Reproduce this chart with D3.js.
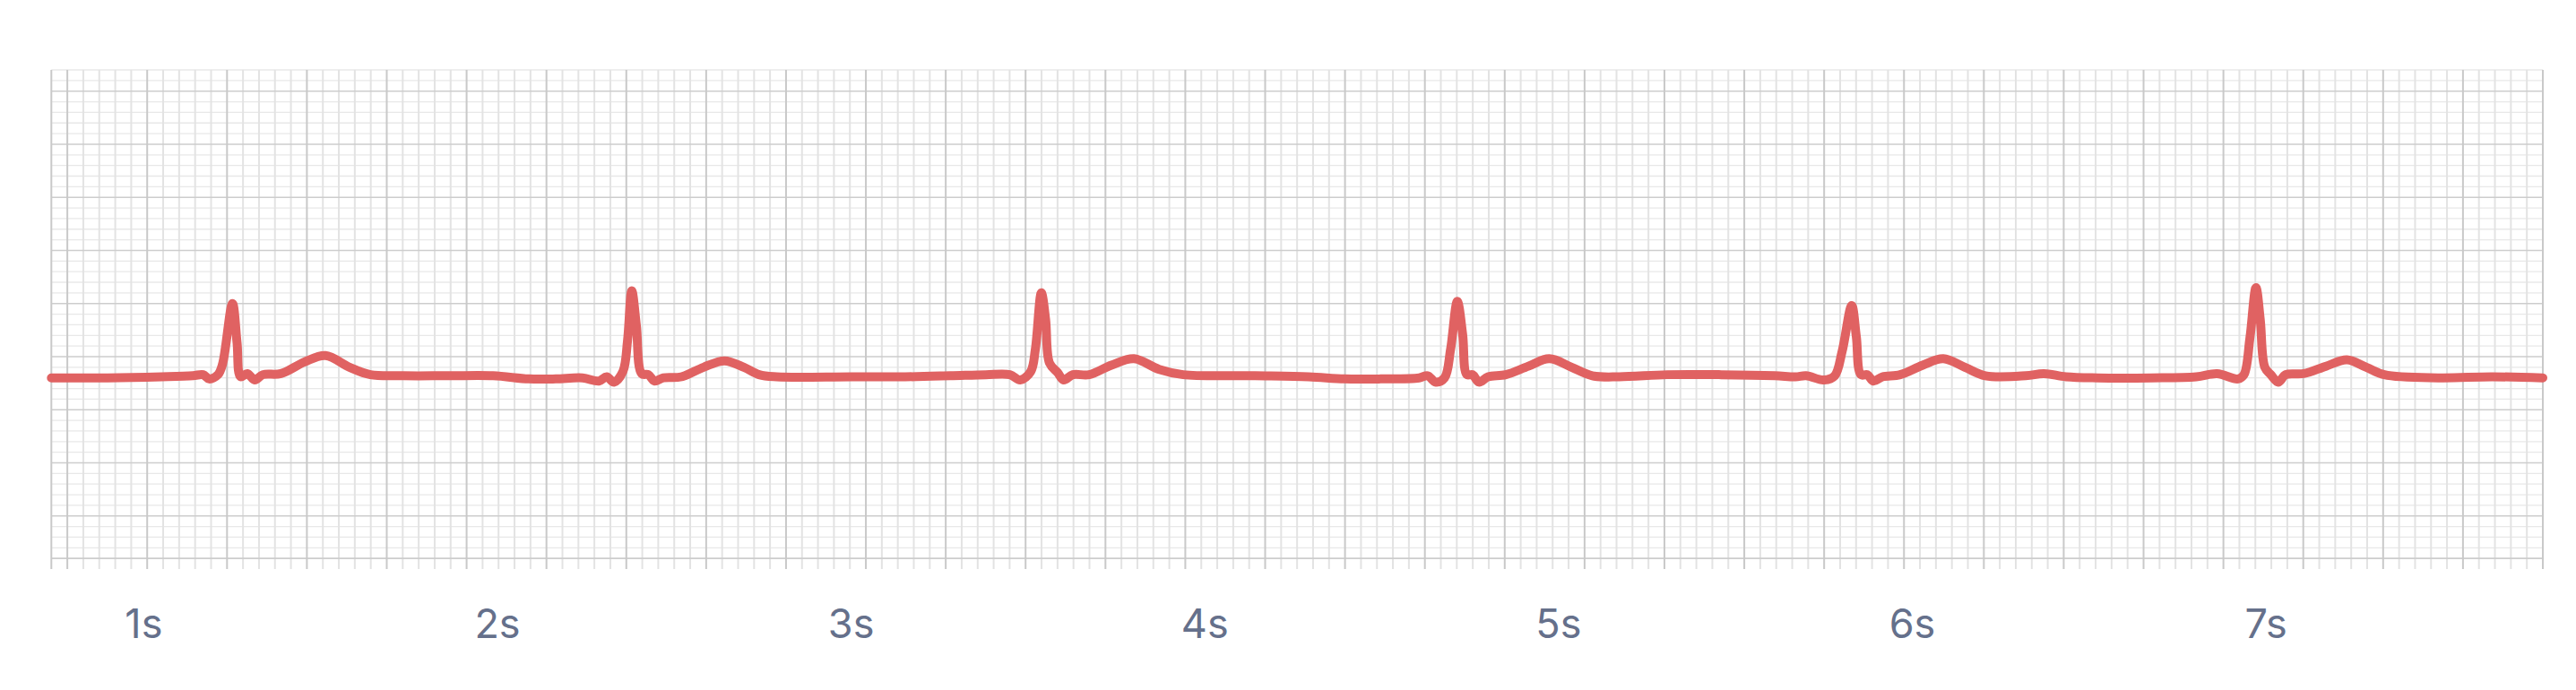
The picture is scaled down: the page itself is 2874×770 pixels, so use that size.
<!DOCTYPE html>
<html>
<head>
<meta charset="utf-8">
<script src="https://cdn.jsdelivr.net/npm/d3@7"></script>
<style>
  body { margin: 0; background: #fff; }
</style>
</head>
<body>
<script>
const w = 2874;
const h = 770;

// ecg strip: time in seconds, amplitude in mV
const times = [0.740, 0.899, 1.051, 1.140, 1.169, 1.186, 1.211, 1.224, 1.252, 1.265, 1.275, 1.294, 1.315, 1.338, 1.389, 1.456, 1.515, 1.583, 1.642, 1.735, 1.862, 1.989, 2.090, 2.166, 2.242,
  2.288, 2.310, 2.331, 2.356, 2.369, 2.381, 2.394, 2.409, 2.428, 2.445, 2.470, 2.521, 2.584, 2.643, 2.698, 2.741, 2.791, 3.002, 3.154, 3.281, 3.382,
  3.450, 3.479, 3.509, 3.522, 3.539, 3.551, 3.562, 3.585, 3.602, 3.628, 3.674, 3.737, 3.801, 3.872, 3.940, 4.143, 4.295, 4.396, 4.498, 4.607,
  4.631, 4.654, 4.679, 4.696, 4.715, 4.730, 4.742, 4.758, 4.776, 4.802, 4.852, 4.916, 4.975, 5.038, 5.097, 5.173, 5.308, 5.461, 5.613, 5.671,
  5.701, 5.752, 5.782, 5.803, 5.830, 5.843, 5.856, 5.874, 5.891, 5.917, 5.967, 6.031, 6.089, 6.150, 6.208, 6.322, 6.373, 6.436, 6.525, 6.677, 6.804,
  6.863, 6.922, 6.939, 6.956, 6.973, 6.985, 6.998, 7.015, 7.036, 7.057, 7.108, 7.171, 7.230, 7.285, 7.336, 7.488, 7.640, 7.784];

const millivolts = [0.00, 0.00, 0.01, 0.02, 0.03, -0.01, 0.03, 0.13, 0.70, 0.33, 0.01, 0.04, -0.02, 0.03, 0.04, 0.15, 0.21, 0.10, 0.03, 0.02, 0.02, 0.02, -0.01, -0.01, 0.00,
  -0.03, 0.01, -0.04, 0.06, 0.35, 0.82, 0.49, 0.04, 0.03, -0.03, 0.00, 0.01, 0.10, 0.16, 0.10, 0.03, 0.01, 0.01, 0.01, 0.02, 0.03,
  0.03, -0.02, 0.06, 0.27, 0.80, 0.55, 0.14, 0.05, -0.02, 0.03, 0.03, 0.12, 0.18, 0.08, 0.03, 0.02, 0.01, -0.01, -0.01, 0.00,
  0.02, -0.04, 0.00, 0.27, 0.72, 0.41, 0.03, 0.03, -0.04, 0.01, 0.03, 0.11, 0.18, 0.10, 0.02, 0.01, 0.03, 0.03, 0.02, 0.01,
  0.02, -0.02, 0.02, 0.25, 0.68, 0.39, 0.03, 0.03, -0.03, 0.01, 0.03, 0.12, 0.18, 0.10, 0.02, 0.02, 0.04, 0.01, 0.00, 0.00, 0.01,
  0.04, -0.01, 0.03, 0.38, 0.85, 0.55, 0.10, 0.03, -0.04, 0.03, 0.04, 0.11, 0.17, 0.10, 0.03, 0.00, 0.01, 0.00];

const tickSeconds = [1, 2, 3, 4, 5, 6, 7];
const tickLabels = ["1s", "2s", "3s", "4s", "5s", "6s", "7s"];

const gridLeft = 57.3;
const gridRight = 2837;
const gridTop = 78;
const gridBottom = 635;

const svg = d3.select("body")
              .append("svg")
              .attr("width", w)
              .attr("height", h);

const xScale = d3.scaleLinear()
      .domain([0.74, 7.784])
      .range([gridLeft, gridRight]);

const yScale = d3.scaleLinear()
      .domain([-1.8, 2.9])
      .range([gridBottom, gridTop]);

// paper grid: 156 small columns across, rows every 0.1 mV
const paperX = d3.scaleLinear()
      .domain([0, 156])
      .range([gridLeft, gridRight]);

const cols = d3.range(0, 157);
const rows = d3.range(-17, 30);

const colMajor = j => j === 0 || j % 5 === 1;
const rowMajor = k => k === -17 || (k - 2) % 5 === 0;

const grid = svg.append("g");

grid.selectAll("line.row")
    .data(rows)
    .join("line")
    .attr("class", "row")
    .attr("x1", gridLeft)
    .attr("x2", gridRight)
    .attr("y1", k => yScale(k / 10))
    .attr("y2", k => yScale(k / 10))
    .attr("stroke", k => rowMajor(k) ? "#cdcdcd" : "#e8e8e8")
    .attr("stroke-width", k => rowMajor(k) ? 1.6 : 1.3);

grid.selectAll("line.col")
    .data(cols)
    .join("line")
    .attr("class", "col")
    .attr("x1", j => paperX(j))
    .attr("x2", j => paperX(j))
    .attr("y1", gridTop)
    .attr("y2", gridBottom)
    .attr("stroke", j => colMajor(j) ? "#c9c9c9" : "#e3e3e3")
    .attr("stroke-width", 2);

// majors on top of the light lines
grid.selectAll("line")
    .filter(function(d) {
      return this.getAttribute("class") === "row" ? rowMajor(d) : colMajor(d);
    })
    .raise();

const axis = svg.append("g")
      .attr("transform", "translate(0," + gridBottom + ")")
      .call(d3.axisBottom(xScale)
        .tickValues(tickSeconds)
        .tickFormat((d, i) => tickLabels[i])
        .tickSize(0));

axis.select(".domain").remove();
axis.attr("font-family", "Inter, 'Noto Sans', sans-serif")
    .attr("font-size", 45)
    .attr("color", "#65708b");
axis.selectAll("text")
    .attr("y", 77)
    .attr("dy", null);

svg.append("path")
    .datum(d3.zip(times, millivolts))
    .attr("fill", "none")
    .attr("stroke", "#e06262")
    .attr("stroke-width", 10)
    .attr("stroke-linejoin", "round")
    .attr("stroke-linecap", "round")
    .attr("d", d3.line()
      .curve(d3.curveCatmullRom.alpha(0.5))
      .x(d => xScale(d[0]))
      .y(d => yScale(d[1]))
    );
</script>
</body>
</html>
